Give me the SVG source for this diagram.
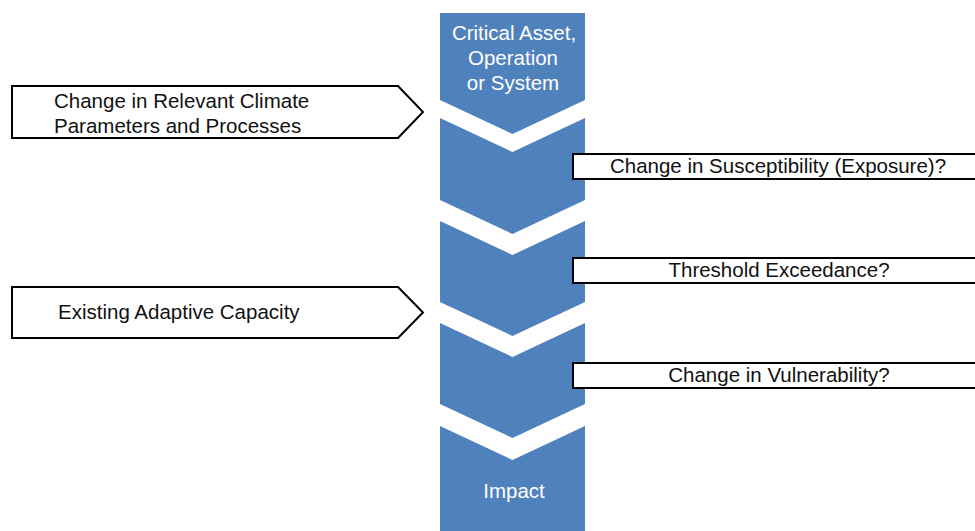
<svg xmlns="http://www.w3.org/2000/svg" width="975" height="531" viewBox="0 0 975 531">
<style>
.col{fill:#4F81BD;}
.box{fill:#FFFFFF;stroke:#000000;stroke-width:2;}
.t{font-family:"Liberation Sans",Arial,sans-serif;font-size:20.5px;fill:#111111;}
.w{font-family:"Liberation Sans",Arial,sans-serif;font-size:20.5px;fill:#FFFFFF;text-anchor:middle;}
.c{text-anchor:middle;}
</style>
<rect width="975" height="531" fill="#FFFFFF"/>
<g id="stage-asset">
<polygon class="col" points="440,13 585,13 585,100 512.5,134 440,100"/>
<text class="w" x="514" y="40">Critical Asset,</text>
<text class="w" x="513" y="65">Operation</text>
<text class="w" x="513" y="90">or System</text>
</g>
<g id="stage-2">
<polygon class="col" points="440,118 512.5,152 585,118 585,200 512.5,234 440,200"/>
</g>
<g id="stage-3">
<polygon class="col" points="440,221 512.5,255 585,221 585,302 512.5,336 440,302"/>
</g>
<g id="stage-4">
<polygon class="col" points="440,323 512.5,357 585,323 585,404 512.5,438 440,404"/>
</g>
<g id="stage-impact">
<polygon class="col" points="440,426 512.5,460 585,426 585,531 440,531"/>
<text class="w" x="514" y="498">Impact</text>
</g>
<g id="climate-change">
<polygon class="box" points="12,86 398,86 423,112 398,138 12,138"/>
<text class="t" x="54" y="108">Change in Relevant Climate</text>
<text class="t" x="54" y="133">Parameters and Processes</text>
</g>
<g id="adaptive-capacity">
<polygon class="box" points="12,287 398,287 423,312.5 398,338 12,338"/>
<text class="t" x="58" y="319">Existing Adaptive Capacity</text>
</g>
<g id="susceptibility">
<rect class="box" x="573" y="154" width="412" height="25"/>
<text class="t c" x="778" y="173">Change in Susceptibility (Exposure)?</text>
</g>
<g id="threshold">
<rect class="box" x="573" y="258" width="412" height="25"/>
<text class="t c" x="779" y="277">Threshold Exceedance?</text>
</g>
<g id="vulnerability">
<rect class="box" x="573" y="363" width="412" height="25"/>
<text class="t c" x="779" y="382">Change in Vulnerability?</text>
</g>
<g id="connectors"></g>
</svg>
